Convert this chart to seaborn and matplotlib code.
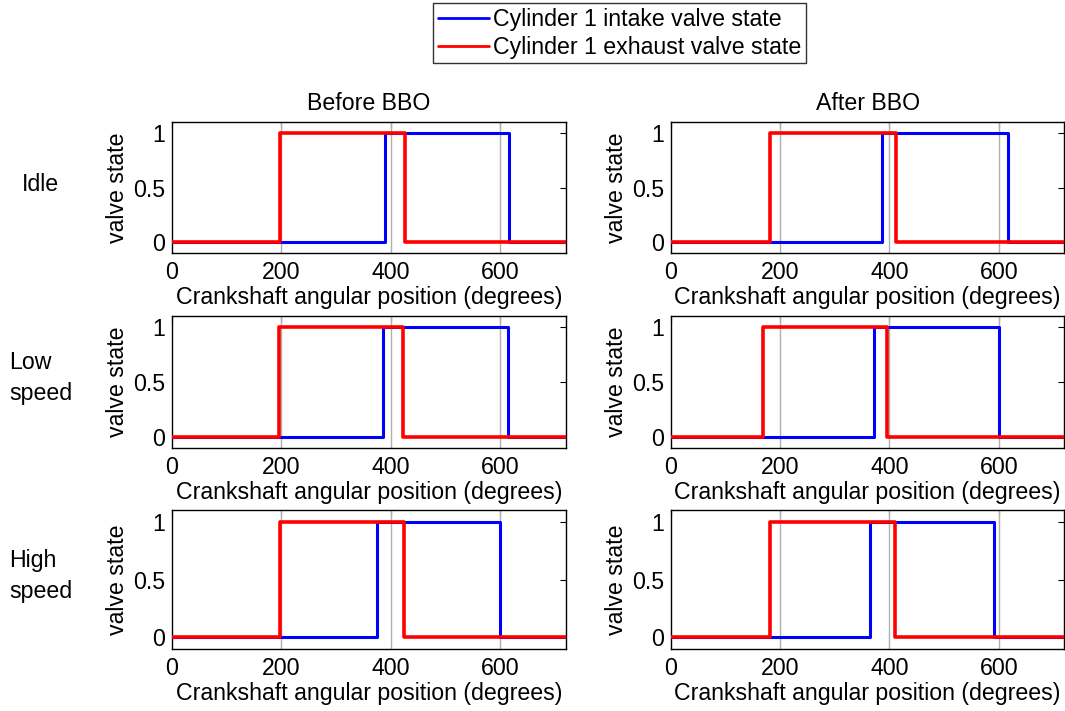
import numpy as np
import pandas as pd
import matplotlib
matplotlib.use("Agg")
import matplotlib.pyplot as plt
import seaborn as sns

# ---- data (crank angles in degrees) ----
conditions = ["Idle", "Low\nspeed", "High\nspeed"]
columns = ["Before BBO", "After BBO"]
# intake valve open / close angles [row][col]
intake_open = [[389, 387], [386, 372], [374, 364]]
intake_close = [[616, 616], [614, 600], [600, 592]]
# exhaust valve open / close angles [row][col]
exhaust_open = [[198, 182], [196, 169], [198, 182]]
exhaust_close = [[426, 412], [423, 396], [425, 410]]
ref_angles = [200, 400, 600]
x_max = 720
xticks = [0, 200, 400, 600]
yticks = [0, 0.5, 1]
ytick_labels = ["0", "0.5", "1"]
series_names = ["Cylinder 1 intake valve state", "Cylinder 1 exhaust valve state"]

sns.set_style("white")
plt.rcParams["font.family"] = ["Liberation Sans", "DejaVu Sans"]
plt.rcParams["text.color"] = "black"
plt.rcParams["axes.labelcolor"] = "black"
plt.rcParams["xtick.color"] = "black"
plt.rcParams["ytick.color"] = "black"

FS = 16.7
fig = plt.figure(figsize=(10.65, 7.11), dpi=100)

lefts = [0.1615, 0.6298]
width = 0.3697
rows_y = [(0.644, 0.8284), (0.370, 0.5556), (0.0872, 0.2827)]

def step_frame(o, c, name):
    xs = [0, o, o, c, c, x_max]
    ys = [0, 0, 1, 1, 0, 0]
    return pd.DataFrame({"angle": xs, "state": ys, "series": name, "order": range(6)})

handles = None
for r in range(3):
    for cidx in range(2):
        b, t = rows_y[r]
        ax = fig.add_axes([lefts[cidx], b, width, t - b])
        for a in ref_angles:
            ax.axvline(a, color="#b0b0b0", lw=1.0, zorder=1)
        df = pd.concat([
            step_frame(intake_open[r][cidx], intake_close[r][cidx], series_names[0]),
            step_frame(exhaust_open[r][cidx], exhaust_close[r][cidx], series_names[1]),
        ])
        sns.lineplot(data=df, x="angle", y="state", hue="series", units="series",
                     estimator=None, sort=False, palette=["#0000ff", "#ff0000"],
                     ax=ax, legend=False, linewidth=2.2, zorder=3)
        ax.get_lines()[-1].set_linewidth(2.6)
        ax.set_xlim(0, x_max)
        ax.set_ylim(-0.1, 1.1)
        ax.set_xticks(xticks)
        ax.set_yticks(yticks)
        ax.set_yticklabels(ytick_labels)
        ax.tick_params(direction="in", length=4, top=True, right=True,
                       labelsize=FS, colors="black", pad=5)
        ax.tick_params(axis="x", pad=6)
        for sp in ax.spines.values():
            sp.set_color("black")
            sp.set_linewidth(1.0)
            sp.set_visible(True)
        ax.set_xlabel("Crankshaft angular position (degrees)", fontsize=FS, labelpad=1)
        ax.set_ylabel("valve state", fontsize=FS, labelpad=3)
        if r == 0:
            ax.set_title(columns[cidx], fontsize=FS, pad=9)
            if cidx == 0:
                handles = ax.get_lines()[len(ref_angles):len(ref_angles) + 2]

for r, lab in enumerate(conditions):
    b, t = rows_y[r]
    fig.text(0.038, (b + t) / 2 + 0.005, lab, fontsize=FS, ha="center", va="center",
             multialignment="left", linespacing=1.45)

leg = fig.legend(handles, series_names, loc="upper center",
                 bbox_to_anchor=(0.5817, 1.0), fontsize=FS, frameon=True,
                 fancybox=False, edgecolor="black", handlelength=2.2,
                 borderpad=0.2, labelspacing=0.2, handletextpad=0.2,
                 borderaxespad=0.15)
leg.get_frame().set_linewidth(1.0)
for h in leg.get_lines():
    h.set_linewidth(2.0)

fig.savefig("out.png", dpi=100)
